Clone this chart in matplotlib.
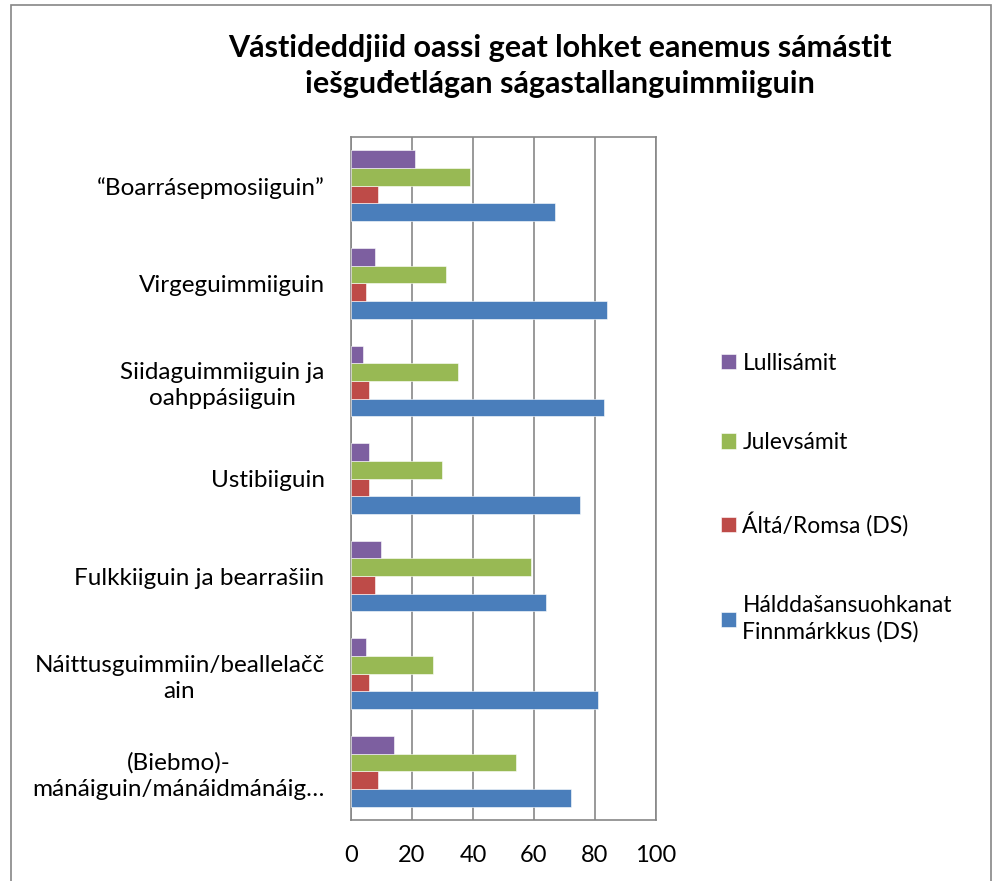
import numpy as np
import matplotlib
matplotlib.use("Agg")
import matplotlib.pyplot as plt
from matplotlib.patches import Rectangle

plt.rcParams['font.family'] = ['Lato', 'DejaVu Sans']

# kategoriijat (vuolimus vuos)
kategoriijat = [
    "(Biebmo)-\nmánáiguin/mánáidmánáig…",
    "Náittusguimmiin/beallelačč\nain",
    "Fulkkiiguin ja bearrašiin",
    "Ustibiiguin",
    "Siidaguimmiiguin ja\noahppásiiguin",
    "Virgeguimmiiguin",
    "“Boarrásepmosiiguin”",
]

# ráiddut
halddas = [72, 81, 64, 75, 83, 84, 67]
alta = [9, 6, 8, 6, 6, 5, 9]
julev = [54, 27, 59, 30, 35, 31, 39]
lulli = [14, 5, 10, 6, 4, 8, 21]

ráidonamat = ["Hálddašansuohkanat\nFinnmárkkus (DS)", "Áltá/Romsa (DS)", "Julevsámit", "Lullisámit"]
ivnnit = ["#4A7EBB", "#BE4B48", "#98B954", "#7D5FA0"]

xticks = [0, 20, 40, 60, 80, 100]

fig = plt.figure(figsize=(9.95, 8.81), dpi=100)
ax = fig.add_axes([351/995, 61/881, 305/995, 683/881])

y = np.arange(len(kategoriijat))
h = 0.181
barit = []
for k, vals in enumerate([halddas, alta, julev, lulli]):
    b = ax.barh(y + (k - 1.5) * h, vals, height=h, color=ivnnit[k],
                edgecolor="white", linewidth=0.4, label=ráidonamat[k], zorder=3)
    barit.append(b)

ax.set_xlim(0, 100)
ax.set_ylim(-0.5, len(kategoriijat) - 0.5)
ax.set_xticks(xticks)
ax.set_xticklabels([str(t) for t in xticks], fontsize=17)
ax.set_yticks(y)
ax.set_yticklabels(kategoriijat, fontsize=17.5, multialignment="center", linespacing=1.3)
ax.tick_params(length=0)
ax.tick_params(axis="x", pad=18)
ax.tick_params(axis="y", pad=19)
ax.grid(axis="x", color="#878787", linewidth=1.2, zorder=0)
for s in ax.spines.values():
    s.set_color("#878787")
    s.set_linewidth(1.2)

# legenda
fig.legend(handles=barit[::-1], labels=ráidonamat[::-1],
           loc="upper left", bbox_to_anchor=(700/995, 1 - 332/881),
           frameon=False, fontsize=16.5, handlelength=0.65, handleheight=0.65,
           handletextpad=0.3, labelspacing=2.55)
for t in fig.legends[0].get_texts():
    t.set_linespacing(1.3)

fig.text(560/995, 1 - 66/881, "Vástideddjiid oassi geat lohket eanemus sámástit\niešguđetlágan ságastallanguimmiiguin",
         ha="center", va="center", fontsize=22, fontweight="bold", linespacing=1.35)

# olggut ravda
fig.patches.append(Rectangle((11/995, -0.05), 980/995, (881 - 5)/881 + 0.05,
                             transform=fig.transFigure, fill=False,
                             edgecolor="#868686", linewidth=1.2))

fig.savefig("out.png", dpi=100)
